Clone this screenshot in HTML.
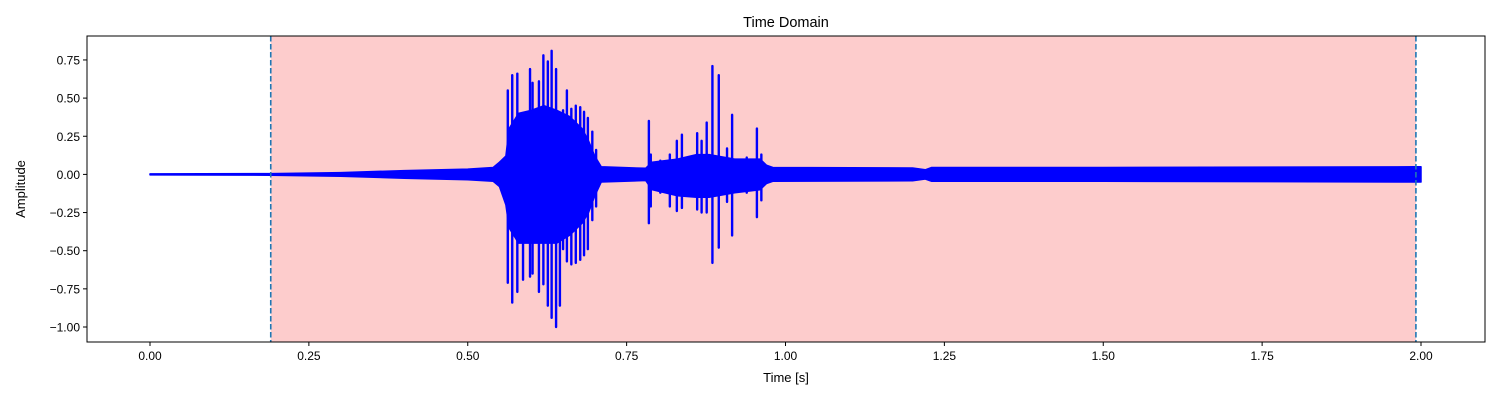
<!DOCTYPE html>
<html><head><meta charset="utf-8"><style>
body{margin:0;background:#fff;}
svg text{font-family:"Liberation Sans","DejaVu Sans",sans-serif;fill:#000;}
</style></head><body>
<svg id="chart" width="1500" height="400" viewBox="0 0 1500 400" xmlns="http://www.w3.org/2000/svg">
<text x="786" y="27" font-size="14.5" text-anchor="middle">Time Domain</text>
<g id="plot"></g>
<text x="786" y="382" font-size="13" text-anchor="middle">Time [s]</text>
<text transform="translate(25,189) rotate(-90)" font-size="13" text-anchor="middle">Amplitude</text>
</svg>
<script>
const xTicks=[0,0.25,0.5,0.75,1.0,1.25,1.5,1.75,2.0];
const xTickLabels=["0.00","0.25","0.50","0.75","1.00","1.25","1.50","1.75","2.00"];
const yTicks=[0.75,0.5,0.25,0,-0.25,-0.5,-0.75,-1.0];
const yTickLabels=["0.75","0.50","0.25","0.00","\u22120.25","\u22120.50","\u22120.75","\u22121.00"];
const regionStart=0.19, regionEnd=1.992;
const envT=[0,0.19,0.3,0.4,0.5,0.54,0.55,0.56,0.565,0.58,0.6,0.62,0.64,0.66,0.68,0.69,0.70,0.71,0.78,0.79,0.83,0.86,0.88,0.92,0.96,0.97,0.98,1.2,1.22,1.23,1.5,1.99,2.0];
const envHi=[0.003,0.005,0.012,0.025,0.035,0.045,0.08,0.12,0.3,0.4,0.42,0.45,0.42,0.38,0.3,0.22,0.12,0.05,0.04,0.08,0.1,0.13,0.13,0.1,0.1,0.06,0.045,0.042,0.03,0.045,0.045,0.05,0.05];
const envLo=[-0.003,-0.005,-0.012,-0.025,-0.035,-0.045,-0.08,-0.2,-0.35,-0.45,-0.45,-0.45,-0.45,-0.4,-0.32,-0.25,-0.14,-0.05,-0.04,-0.1,-0.14,-0.15,-0.15,-0.12,-0.1,-0.06,-0.045,-0.042,-0.03,-0.045,-0.045,-0.05,-0.05];
const spikeT=[0.563,0.570,0.578,0.587,0.598,0.602,0.612,0.619,0.626,0.632,0.639,0.645,0.650,0.656,0.663,0.670,0.677,0.683,0.689,0.696,0.702,0.785,0.788,0.803,0.818,0.829,0.837,0.861,0.868,0.876,0.885,0.895,0.908,0.916,0.939,0.955,0.962];
const spikeHi=[0.55,0.65,0.66,0.33,0.69,0.60,0.61,0.78,0.74,0.81,0.69,0.39,0.42,0.55,0.43,0.45,0.44,0.41,0.37,0.28,0.16,0.35,0.13,0.09,0.13,0.22,0.26,0.27,0.22,0.34,0.71,0.65,0.17,0.39,0.11,0.30,0.13];
const spikeLo=[-0.71,-0.84,-0.77,-0.69,-0.67,-0.65,-0.77,-0.72,-0.86,-0.94,-1.0,-0.86,-0.49,-0.57,-0.59,-0.58,-0.56,-0.53,-0.49,-0.30,-0.21,-0.32,-0.21,-0.12,-0.21,-0.24,-0.22,-0.23,-0.25,-0.25,-0.58,-0.48,-0.18,-0.40,-0.12,-0.28,-0.17];

const L=87,R=1485,T=36,B=342;
const xs=t=>150+t*635.5;
const ys=v=>174.4-v*152.6;
const NS="http://www.w3.org/2000/svg";
const g=document.getElementById('plot');
function mk(tag,attrs,parent){const e=document.createElementNS(NS,tag);for(const k in attrs)e.setAttribute(k,attrs[k]);(parent||g).appendChild(e);return e;}

const reg=mk('rect',{x:xs(regionStart),y:T,width:xs(regionEnd)-xs(regionStart),height:B-T,fill:'#fdcccc'});



let pts=[];
envT.forEach((t,i)=>pts.push(xs(t).toFixed(1)+','+ys(envHi[i]).toFixed(1)));
for(let i=envT.length-1;i>=0;i--)pts.push(xs(envT[i]).toFixed(1)+','+ys(envLo[i]).toFixed(1));
const env=mk('polygon',{points:pts.join(' '),fill:'#0000ff',stroke:'#0000ff','stroke-width':1.5,'stroke-linejoin':'round'});



spikeT.forEach((t,i)=>{
  const s=mk('line',{x1:xs(t),x2:xs(t),y1:ys(spikeHi[i]),y2:ys(spikeLo[i]),stroke:'#0000ff','stroke-width':2.4,'stroke-linecap':'round'});
  
  
});

[regionStart,regionEnd].forEach(t=>{
  const d=mk('line',{x1:xs(t),x2:xs(t),y1:T,y2:B,stroke:'#1f77b4','stroke-width':1.6,'stroke-dasharray':'5.5,2.5'});
  
  
});

const frame=mk('rect',{x:L,y:T,width:R-L,height:B-T,fill:'none',stroke:'#000','stroke-width':1});



xTicks.forEach((t,i)=>{
  const tk=mk('line',{x1:xs(t),x2:xs(t),y1:B,y2:B+4,stroke:'#000'});
  
  
  const tx=mk('text',{x:xs(t),y:B+18,'font-size':12,'text-anchor':'middle'});
  tx.textContent=xTickLabels[i];
  
  
});
yTicks.forEach((v,i)=>{
  const tk=mk('line',{x1:L-4,x2:L,y1:ys(v),y2:ys(v),stroke:'#000'});
  
  
  const tx=mk('text',{x:L-7,y:ys(v)+4.5,'font-size':12,'text-anchor':'end'});
  tx.textContent=yTickLabels[i];
  
  
});
</script>
</body></html>
